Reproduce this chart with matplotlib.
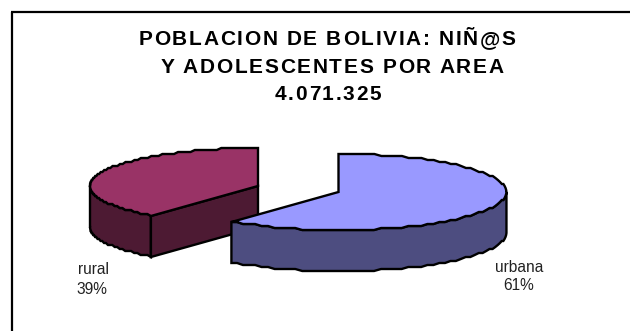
import numpy as np
import matplotlib
matplotlib.use("Agg")
import matplotlib.pyplot as plt
from matplotlib.patches import Polygon
from matplotlib.text import Text
from matplotlib.transforms import IdentityTransform

labels = ["urbana", "rural"]
shares = [61, 39]
title_lines = ["POBLACION DE BOLIVIA: NIÑ@S", "Y ADOLESCENTES POR AREA", "4.071.325"]

top_colors = ["#9999ff", "#993366"]
side_colors = ["#4d4d80", "#4d1a33"]
centers = [(338.5, 192), (258, 186)]
RX, RY = 168, 38
DEPTH = 41
OUTLINE = 1.7
N_RIM = 90
FONT = ["Liberation Sans", "DejaVu Sans"]


class SpacedText(Text):
    """Centred text with extra tracking between the characters."""

    def __init__(self, x, y, text, tracking=0, **kw):
        super().__init__(x, y, text, ha="center", va="baseline", **kw)
        self.tracking = tracking

    def _width(self, s, renderer):
        probe = Text(0, 0, s, fontproperties=self.get_fontproperties())
        probe.set_figure(self.get_figure())
        return probe.get_window_extent(renderer).width

    def draw(self, renderer):
        s = self.get_text()
        x0, y0 = self.get_transform().transform((self.get_position()))
        total = self._width(s, renderer) + self.tracking * (len(s) - 1)
        for i, ch in enumerate(s):
            if ch == " ":
                continue
            offset = self._width(s[:i + 1], renderer) - self._width(ch, renderer)
            t = Text(x0 - total / 2 + offset + i * self.tracking, y0, ch,
                     fontproperties=self.get_fontproperties(), color=self.get_color(),
                     ha="left", va="baseline", transform=IdentityTransform())
            t.set_figure(self.get_figure())
            t.draw(renderer)


def rim(cx, cy, a0, a1):
    # angles run clockwise from 12 o'clock; the stepped y gives the coarse rim
    ang = np.radians(np.linspace(a0, a1, N_RIM))
    x = cx + RX * np.sin(ang)
    y = cy - RY * np.cos(ang)
    y = np.round(y / 2) * 2
    return np.column_stack([x, y]), ang


def draw_wall(ax, edge, ang, side):
    # outer wall: only the part of the rim facing the viewer
    vis = edge[np.cos(ang) <= 0.02]
    wall = np.vstack([vis, (vis + [0, DEPTH])[::-1]])
    ax.add_patch(Polygon(wall, fc=side, ec="black", lw=OUTLINE))


fig = plt.figure(figsize=(6.3, 3.31), dpi=100)
ax = fig.add_axes([0, 0, 1, 1])
ax.set_xlim(0, 630)
ax.set_ylim(331, 0)
ax.axis("off")

split = 360 * shares[0] / sum(shares)

# rural slice sits behind, its cut face looks towards the urban slice
edge, ang = rim(*centers[1], split, 360)
apex = np.array(centers[1], dtype=float)
draw_wall(ax, edge, ang, side_colors[1])
tip = edge[0]
cut = np.array([tip, apex, apex + [0, DEPTH], tip + [0, DEPTH]])
ax.add_patch(Polygon(cut, fc=side_colors[1], ec="black", lw=OUTLINE))
ax.add_patch(Polygon(np.vstack([apex, edge]), fc=top_colors[1], ec="black", lw=OUTLINE))

# urban slice in front
edge, ang = rim(*centers[0], 0, split)
apex = np.array(centers[0], dtype=float)
draw_wall(ax, edge, ang, side_colors[0])
ax.add_patch(Polygon(np.vstack([apex, edge]), fc=top_colors[0], ec="black", lw=OUTLINE))

# chart frame, open on the right and at the bottom
ax.plot([12, 12], [331, 12], color="black", lw=1.6, solid_capstyle="butt")
ax.plot([11.4, 630], [12, 12], color="black", lw=1.6, solid_capstyle="butt")

title_x = [327, 332, 328]
title_y = [45, 73, 100]
for line, x, y in zip(title_lines, title_x, title_y):
    ax.add_artist(SpacedText(x, y, line, tracking=1.7, color="black",
                             transform=ax.transData, fontsize=15, fontweight="bold",
                             family=FONT))

text_style = dict(ha="center", va="center", fontsize=11.2, family=FONT, color="#222222")
ax.text(519, 267, labels[0], **text_style)
ax.text(519, 285, f"{shares[0]}%", **text_style)
ax.text(93.5, 269, labels[1], **text_style)
ax.text(91.5, 289, f"{shares[1]}%", **text_style)

fig.savefig("out.png", dpi=100)
